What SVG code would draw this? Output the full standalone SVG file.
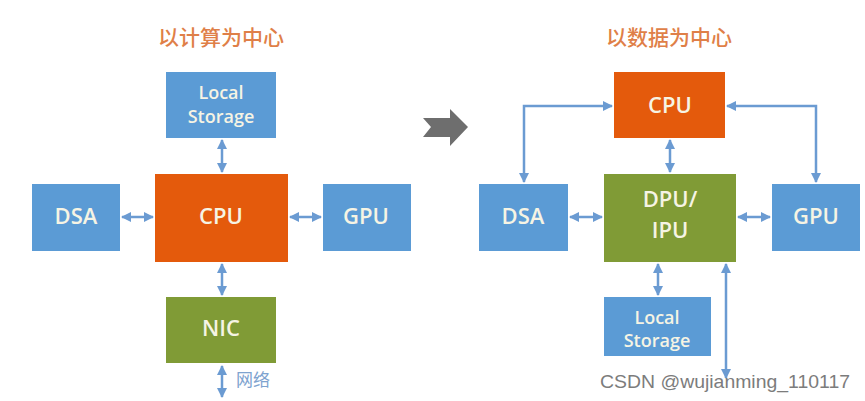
<svg xmlns="http://www.w3.org/2000/svg" width="865" height="401" viewBox="0 0 865 401">
<defs>
<style>
.blue{fill:#5b9bd5}
.orange{fill:#e45a0c}
.green{fill:#809b36}
.lbl{font-family:"Open Sans","Noto Sans",sans-serif;font-weight:600;fill:#f6f4e4;text-anchor:middle}
.big{font-size:22px}
.sm{font-size:18px}
.title{font-family:"Noto Sans CJK SC",sans-serif;font-size:21px;font-weight:500;fill:#df7f48;text-anchor:middle}
.conn{stroke:#6b9bd2;stroke-width:2.5;fill:none;marker-start:url(#ah);marker-end:url(#ah)}
</style>
<marker id="ah" viewBox="0 0 10 10" refX="9" refY="5" markerWidth="4" markerHeight="4" orient="auto-start-reverse" markerUnits="strokeWidth">
<path d="M0,0 L10,5 L0,10 z" fill="#6b9bd2"/>
</marker>
</defs>
<rect width="865" height="401" fill="#ffffff"/>

<text class="title" x="221" y="45">以计算为中心</text>
<text class="title" x="669" y="45">以数据为中心</text>

<g id="shift-arrow">
<polygon points="423,118 450,118 450,109 468,127 450,146 450,137 423,137 431,127" fill="#6e6e6e"/>
</g>

<g id="connectors">
<line class="conn" x1="222" y1="140" x2="222" y2="172"/>
<line class="conn" x1="222" y1="264" x2="222" y2="295"/>
<line class="conn" x1="222" y1="366" x2="222" y2="397"/>
<line class="conn" x1="122" y1="217" x2="153" y2="217"/>
<line class="conn" x1="290" y1="217" x2="321" y2="217"/>
<line class="conn" x1="670" y1="140" x2="670" y2="172"/>
<polyline class="conn" points="612,106 524,106 524,182"/>
<polyline class="conn" points="727,106 816,106 816,182"/>
<line class="conn" x1="570" y1="217" x2="602" y2="217"/>
<line class="conn" x1="738" y1="217" x2="770" y2="217"/>
<line class="conn" x1="658" y1="264" x2="658" y2="295"/>
<line class="conn" x1="726" y1="264" x2="726" y2="378"/>
</g>

<g id="net-label">
<text x="236" y="386" font-family="Noto Sans CJK SC,sans-serif" font-size="17" fill="#7ea3cf">网络</text>
</g>

<g id="l-storage">
<rect class="blue" x="166" y="72" width="110" height="66"/>
<text class="lbl sm" x="221" y="99">Local</text>
<text class="lbl sm" x="221" y="123">Storage</text>
</g>
<g id="l-cpu">
<rect class="orange" x="155" y="174" width="133" height="88"/>
<text class="lbl big" x="221" y="224">CPU</text>
</g>
<g id="l-dsa">
<rect class="blue" x="32" y="184" width="88" height="67"/>
<text class="lbl big" x="76" y="224">DSA</text>
</g>
<g id="l-gpu">
<rect class="blue" x="323" y="184" width="88" height="67"/>
<text class="lbl big" x="366" y="224">GPU</text>
</g>
<g id="l-nic">
<rect class="green" x="166" y="297" width="110" height="66"/>
<text class="lbl big" x="221" y="336">NIC</text>
</g>

<g id="r-cpu">
<rect class="orange" x="614" y="72" width="111" height="66"/>
<text class="lbl big" x="670" y="113">CPU</text>
</g>
<g id="r-dpu">
<rect class="green" x="604" y="174" width="132" height="88"/>
<text class="lbl big" x="670" y="207">DPU/</text>
<text class="lbl big" x="670" y="238">IPU</text>
</g>
<g id="r-dsa">
<rect class="blue" x="479" y="184" width="89" height="67"/>
<text class="lbl big" x="523" y="224">DSA</text>
</g>
<g id="r-gpu">
<rect class="blue" x="772" y="184" width="88" height="67"/>
<text class="lbl big" x="816" y="224">GPU</text>
</g>
<g id="r-storage">
<rect class="blue" x="604" y="297" width="107" height="59"/>
<text class="lbl sm" x="657" y="324">Local</text>
<text class="lbl sm" x="657" y="347">Storage</text>
</g>

<text x="600" y="388" font-family="Liberation Sans,Arial,sans-serif" font-size="19" textLength="250" lengthAdjust="spacingAndGlyphs" fill="#7c7c7c">CSDN @wujianming_110117</text>
</svg>
